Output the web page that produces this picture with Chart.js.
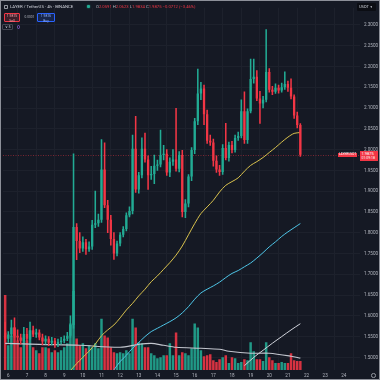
<!DOCTYPE html>
<html><head><meta charset="utf-8">
<script src="https://cdn.jsdelivr.net/npm/chart.js@4.4.1/dist/chart.umd.min.js"></script>
<style>
html,body{margin:0;padding:0;background:#8d9099;width:380px;height:380px;overflow:hidden}
#wrap{position:absolute;left:1px;top:1px;width:378px;height:378px;background:#151924;overflow:hidden}
canvas{position:absolute;left:0;top:0}
.t{position:absolute;white-space:nowrap;font-family:Roboto,"Liberation Sans",sans-serif;line-height:1}
.g{color:#b2b5be}.r{color:#f23645}
</style></head><body>
<div id="wrap"><canvas id="c" width="378" height="378"></canvas>
<div class="t" style="left:3px;top:3.5px;width:4px;height:4px;border:0.6px solid #9598a1;border-radius:0.8px;box-sizing:border-box"></div>
<div class="t" id="title" style="left:9px;top:3.6px;font-size:4.3px;color:#d1d4dc">LAYER / TetherUS · 4h · BINANCE</div>
<div class="t" style="left:86px;top:4.3px;width:2.6px;height:2.6px;border-radius:50%;background:#22ab94;box-shadow:0 0 1.5px #22ab94"></div>
<div class="t" id="ohlc" style="left:95px;top:3.6px;font-size:4.2px"><span class="g">O</span><span class="r">2.0591</span> <span class="g">H</span><span class="r">2.0623</span> <span class="g">L</span><span class="r">1.9834</span> <span class="g">C</span><span class="r">1.9875</span> <span class="r">−0.0712 (−3.46%)</span></div>
<div class="t" style="left:3px;top:12px;width:16px;height:9px;border:0.6px solid #f23645;background:rgba(242,54,69,0.18);border-radius:1px;box-sizing:border-box;text-align:center;font-size:3.4px;color:#f7a1a8;padding-top:1.4px">1.9875<br><span style="line-height:1.3">Sell</span></div>
<div class="t" style="left:23.5px;top:15.2px;font-size:3.2px;color:#b2b5be">0.0001</div>
<div class="t" style="left:36px;top:12px;width:18px;height:9px;border:0.6px solid #2962ff;background:rgba(41,98,255,0.18);border-radius:1px;box-sizing:border-box;text-align:center;font-size:3.4px;color:#8fb0ff;padding-top:1.4px">1.9876<br><span style="line-height:1.3">Buy</span></div>
<div class="t" style="left:1px;top:23px;width:11px;height:6px;border:0.6px solid #434651;border-radius:1px;box-sizing:border-box;font-size:3.6px;color:#d1d4dc;padding:0.9px 0 0 1.5px">∨ 5</div>
<div class="t" style="left:15.5px;top:24.3px;width:3.6px;height:3.6px;border:0.7px solid #7e57c2;border-radius:50%;box-sizing:border-box"></div>
<div class="t" style="left:356px;top:2px;width:19px;height:8px;background:#0b0d13;border-radius:1px;font-size:4px;color:#d1d4dc;padding:2px 0 0 2px;box-sizing:border-box">USDT <span style="font-size:3px">▼</span></div>
<div class="t" id="sym" style="left:337px;width:19px;height:4.4px;background:#f23645;color:#fff;font-size:3.2px;text-align:center;padding-top:0.6px;box-sizing:border-box">LAYERUSDT</div>
<div class="t" id="plab" style="left:359px;width:18px;height:10px;background:#f23645;color:#fff;font-size:4px;padding:1px 0 0 1.5px;box-sizing:border-box">1.9875<br><span style="font-size:3.5px;line-height:1.3">01:09:18</span></div>
<div class="t" style="left:370px;top:372px;width:4.5px;height:4.5px;border:0.7px solid #9598a1;border-radius:50%;box-sizing:border-box"></div>
</div>
<script>
// ---- data (4h candles, first candle = index -1, day 6 00:00 = index 0) ----
const START = -1;
const opens  = [1.560,1.545,1.555,1.572,1.552,1.548,1.540,1.556,1.545,1.565,1.555,1.560,1.548,1.538,1.545,1.535,1.540,1.532,1.537,1.540,1.545,1.552,1.578,1.814,1.780,1.762,1.777,1.760,1.767,1.819,1.823,1.831,1.952,1.866,1.831,1.785,1.750,1.774,1.795,1.809,1.842,1.852,2.002,1.904,1.938,2.002,1.976,1.938,1.941,1.961,1.964,1.987,1.990,1.945,1.971,1.976,1.954,1.987,1.850,1.870,1.935,1.999,2.068,2.135,2.147,2.085,2.021,2.017,1.973,1.952,1.946,2.004,1.980,2.011,1.999,2.028,2.033,2.092,2.023,2.092,2.170,2.175,2.123,2.111,2.120,2.187,2.144,2.139,2.149,2.142,2.150,2.158,2.149,2.128,2.082,2.0591];
const highs  = [1.585,1.562,1.590,1.595,1.566,1.556,1.572,1.570,1.585,1.575,1.568,1.566,1.556,1.552,1.550,1.548,1.546,1.544,1.548,1.552,1.560,1.600,1.990,1.822,1.800,1.790,1.784,1.778,1.830,1.900,1.845,2.024,2.016,1.878,1.842,1.800,1.780,1.800,1.815,1.848,1.862,2.035,2.080,1.945,2.028,2.040,1.985,1.960,1.987,1.975,2.047,2.010,2.000,1.980,2.000,2.099,1.995,1.998,1.880,1.940,2.005,2.075,2.194,2.162,2.155,2.095,2.035,2.025,1.985,1.962,2.012,2.063,2.018,2.020,2.035,2.042,2.120,2.139,2.098,2.218,2.218,2.190,2.140,2.128,2.289,2.195,2.152,2.158,2.155,2.160,2.187,2.165,2.170,2.132,2.090,2.0623];
const lows   = [1.538,1.536,1.550,1.548,1.540,1.532,1.536,1.540,1.542,1.550,1.548,1.542,1.530,1.532,1.528,1.530,1.524,1.526,1.532,1.535,1.540,1.548,1.570,1.735,1.752,1.755,1.748,1.755,1.760,1.812,1.815,1.825,1.860,1.800,1.770,1.736,1.744,1.768,1.790,1.804,1.838,1.845,1.897,1.895,1.932,1.970,1.904,1.928,1.918,1.950,1.958,1.975,1.938,1.935,1.962,1.948,1.946,1.838,1.836,1.862,1.925,1.990,2.060,2.120,2.060,2.015,2.010,1.960,1.945,1.938,1.940,1.975,1.972,1.992,1.994,2.022,2.028,2.015,2.015,2.088,2.160,2.118,2.063,2.100,2.115,2.138,2.132,2.135,2.136,2.138,2.145,2.140,2.122,2.075,2.052,1.9834];
const closes = [1.545,1.555,1.572,1.552,1.548,1.540,1.556,1.545,1.565,1.555,1.560,1.548,1.538,1.545,1.535,1.540,1.532,1.537,1.540,1.545,1.552,1.578,1.814,1.780,1.762,1.777,1.760,1.767,1.819,1.823,1.831,1.952,1.866,1.831,1.785,1.750,1.774,1.795,1.809,1.842,1.852,2.002,1.904,1.938,2.002,1.976,1.938,1.941,1.961,1.964,1.987,1.990,1.945,1.971,1.976,1.954,1.987,1.850,1.870,1.935,1.999,2.068,2.135,2.147,2.085,2.021,2.017,1.973,1.952,1.946,2.004,1.980,2.011,1.999,2.028,2.033,2.092,2.023,2.092,2.170,2.175,2.123,2.111,2.120,2.187,2.144,2.139,2.149,2.142,2.150,2.158,2.149,2.128,2.082,2.059,1.9875];
const volumes = [760,250,350,430,300,230,330,300,400,230,200,170,230,230,220,180,200,180,200,230,270,470,800,320,250,270,220,250,230,270,220,520,350,330,230,180,170,180,170,200,170,520,430,280,270,230,230,170,150,120,130,150,150,270,150,380,150,180,170,150,220,470,430,200,140,150,160,100,80,110,130,150,70,130,120,70,80,110,100,280,190,110,110,90,280,130,100,70,70,80,70,70,170,100,90,90];
const tickDays = ['6','7','8','9','10','11','12','13','14','15','16','17','18','19','20','21','22','23','24'];
const priceTicks = [1.50,1.55,1.60,1.65,1.70,1.75,1.80,1.85,1.90,1.95,2.00,2.05,2.10,2.15,2.20,2.25,2.30];
// moving averages (candle index, value)
const maYellowAt = [20,22,24,26,28,30,32,34,36,38,40,42,44,46,48,50,52,54,56,58,60,62,64,66,68,70,72,74,76,78,80,82,84,86,88,90,92,94];
const maYellow   = [1.468,1.485,1.500,1.515,1.532,1.552,1.566,1.578,1.595,1.614,1.630,1.648,1.664,1.682,1.696,1.712,1.728,1.746,1.768,1.795,1.822,1.846,1.862,1.878,1.898,1.914,1.923,1.932,1.948,1.962,1.971,1.981,1.993,2.005,2.018,2.030,2.039,2.041];
const maCyanAt = [34,36,38,40,42,44,46,48,50,52,54,56,58,60,62,64,66,68,70,72,74,76,78,80,82,84,86,88,90,92,94];
const maCyan   = [1.470,1.490,1.505,1.522,1.536,1.550,1.562,1.570,1.578,1.586,1.595,1.607,1.622,1.640,1.655,1.664,1.672,1.681,1.692,1.702,1.709,1.718,1.727,1.739,1.752,1.766,1.778,1.791,1.802,1.812,1.822];
const maWhiteAt = [76,79,82,85,88,91,94];
const maWhite   = [1.480,1.500,1.517,1.534,1.550,1.566,1.581];
const volMaAt = [-1,10,23,36,42,46,50,54,62,68,71,78,84,91,94];
const volMa   = [270,260,250,230,260,270,250,230,220,210,190,170,170,140,120];

const UP='#22ab94', DN='#f23645';
const n = closes.length;
const idx = closes.map((_,k)=>k+START);
const col = closes.map((c,k)=> c>=opens[k]?UP:DN);
const volCol = closes.map((c,k)=> c>=opens[k]?'rgba(34,171,148,0.88)':'rgba(242,54,69,0.88)');
const pts = (xs,ys)=> xs.map((x,k)=>({x, y:ys[k]}));

const priceLine = {id:'priceLine', beforeDatasetsDraw(c){
  const {ctx, chartArea:a, scales:{y}} = c;
  const py = Math.round(y.getPixelForValue(closes[n-1]))+0.5;
  ctx.save(); ctx.strokeStyle='rgba(242,54,69,0.45)'; ctx.lineWidth=1; ctx.setLineDash([1,1.5]);
  ctx.beginPath(); ctx.moveTo(a.left,py); ctx.lineTo(a.right,py); ctx.stroke(); ctx.restore();
}};

const lineDs = (data,color,axis,w)=>({type:'line', data, yAxisID:axis, borderColor:color, borderWidth:w, pointRadius:0, tension:0.3, order:2.5, clip:0});
const fnt = {size:4.6, family:'Roboto'};
const chart = new Chart(document.getElementById('c'), {
  type:'bar',
  data:{datasets:[
    lineDs(pts(maYellowAt,maYellow),'#d9c24e','y',1),
    lineDs(pts(maCyanAt,maCyan),'#4fc6e8','y',1),
    lineDs(pts(maWhiteAt,maWhite),'#d1d4dc','y',1),
    lineDs(pts(volMaAt,volMa),'#c3c6ce','yv',1.1),
    {data: idx.map((x,k)=>({x, y:[opens[k],closes[k]]})), backgroundColor:col, grouped:false, barPercentage:0.74, categoryPercentage:1, minBarLength:1, order:1},
    {data: idx.map((x,k)=>({x, y:[lows[k],highs[k]]})), backgroundColor:col, grouped:false, barThickness:0.9, order:2},
    {data: idx.map((x,k)=>({x, y:volumes[k]})), yAxisID:'yv', backgroundColor:volCol, grouped:false, barPercentage:0.8, categoryPercentage:1, order:3}
  ]},
  options:{
    responsive:false, animation:false, devicePixelRatio:1,
    layout:{padding:{left:2, top:2, right:0, bottom:0}},
    plugins:{legend:{display:false}, tooltip:{enabled:false}},
    scales:{
      x:{type:'linear', min:-1.7, max:113.2, offset:false,
         grid:{color:'#1d212c', drawTicks:false}, border:{display:false},
         afterBuildTicks: ax => { ax.ticks = tickDays.map((d,k)=>({value:k*6})); },
         ticks:{color:'#b2b5be', font:fnt, padding:3, maxRotation:0, autoSkip:false,
                callback:(v,k)=> tickDays[k]},
         afterFit: s => { s.height = 9; }},
      y:{position:'right', min:1.4696, max:2.3413,
         grid:{color:'#1d212c', drawTicks:false}, border:{display:false},
         afterBuildTicks: ax => { ax.ticks = priceTicks.map(v=>({value:v})); },
         ticks:{color:'#b2b5be', font:fnt, padding:4, callback:v=> Number(v).toFixed(4)},
         afterFit: s => { s.width = 19; }},
      yv:{display:false, min:0, max:3670}
    }
  },
  plugins:[priceLine]
});
const py = chart.scales.y.getPixelForValue(closes[n-1]);
document.getElementById('plab').style.top = (py-3.5)+'px';
document.getElementById('sym').style.top = (py-1.9)+'px';
</script>
</body></html>
